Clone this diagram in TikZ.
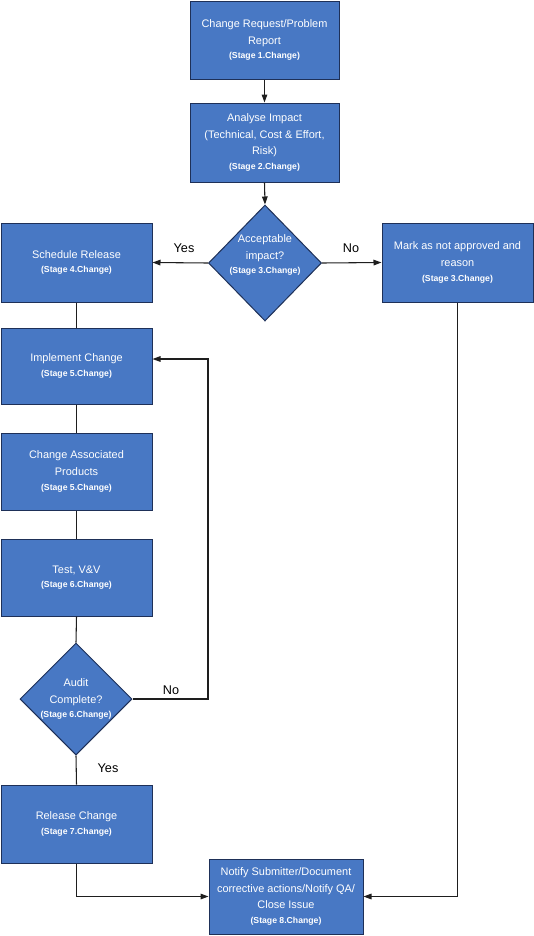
\documentclass[tikz,border=0pt]{standalone}
\usepackage{fontspec}
\setmainfont{Liberation Sans}
\usetikzlibrary{shapes.geometric,arrows.meta,calc}
\definecolor{boxblue}{RGB}{72,120,196}
\definecolor{boxedge}{RGB}{30,48,88}
\definecolor{conn}{RGB}{30,30,30}
\newcommand\mainf{\fontsize{8.2}{12.5}\selectfont}
\newcommand\stgf{\fontsize{6.5}{12.5}\selectfont\bfseries}
\begin{document}
\begin{tikzpicture}[x=0.75pt,y=-0.75pt,
  box/.style={draw=boxedge, fill=boxblue, line width=0.75pt, text=white, align=center,
    inner sep=0pt, font=\mainf, minimum width=113.25pt, minimum height=58.5pt},
  dia/.style={draw=boxedge, fill=boxblue, line width=0.75pt, diamond, inner sep=0pt},
  dtext/.style={text=white, align=center, font=\mainf, inner sep=0pt},
  lbl/.style={font=\fontsize{9.5}{11}\selectfont, inner sep=0pt},
  conn/.style={draw=conn, line width=0.8pt},
  arr/.style={conn, -{Triangle[length=6pt,width=4.2pt]}}]
\useasboundingbox (0,0) rectangle (534,936);

\node[box, minimum width=111.75pt] (n1) at (264.5,40)
  {Change Request/Problem\\Report\\[-1.5pt]\stgf (Stage 1.Change)};
\node[box, minimum width=111.75pt, minimum height=59.25pt] (n2) at (264.5,142.5)
  {Analyse Impact\\(Technical, Cost \& Effort,\\Risk)\\[-1.5pt]\stgf (Stage 2.Change)};
\node[dia, minimum width=84.75pt, minimum height=87pt] (d1) at (265,263) {};
\node[dtext] (t1) at (265,255) {Acceptable\\impact?\\[-1.5pt]\stgf (Stage 3.Change)};
\node[box, minimum height=59.25pt] (n4) at (76.5,262.5)
  {Schedule Release\\[-1.5pt]\stgf (Stage 4.Change)};
\node[box, minimum height=59.25pt] (n3) at (457.5,262.5)
  {Mark as not approved and\\reason\\[-1.5pt]\stgf (Stage 3.Change)};
\node[box, minimum height=57pt] (n5) at (76.5,366)
  {Implement Change\\[-1.5pt]\stgf (Stage 5.Change)};
\node[box, minimum height=57.75pt] (n6) at (76.5,471.5)
  {Change Associated\\Products\\[-1.5pt]\stgf (Stage 5.Change)};
\node[box, minimum height=57.75pt] (n7) at (76.5,577.5)
  {Test, V\&V\\[-1.5pt]\stgf (Stage 6.Change)};
\node[dia, minimum width=84pt, minimum height=84pt] (d2) at (76,699) {};
\node[dtext] (t2) at (76,699) {Audit\\Complete?\\[-1.5pt]\stgf (Stage 6.Change)};
\node[box] (n8) at (76.5,824)
  {Release Change\\[-1.5pt]\stgf (Stage 7.Change)};
\node[box, minimum width=115.5pt, minimum height=56.25pt] (n9) at (286,896.5)
  {Notify Submitter/Document\\corrective actions/Notify QA/\\Close Issue\\[-1.5pt]\stgf (Stage 8.Change)};

\draw[arr] (n1.south) -- (n2.north);
\draw[arr] (n2.south) -- (d1.north);
\draw[arr] (d1.west) -- (n4.east);
\draw[arr] (d1.east) -- (n3.west);
\node[lbl] (yes1) at (184,248) {Yes};
\node[lbl] (no1) at (351,248) {No};

\draw[conn] (n4.south) -- (n5.north);
\draw[conn] (n5.south) -- (n6.north);
\draw[conn] (n6.south) -- (n7.north);
\draw[conn] (n7.south) -- (d2.north);
\draw[conn] (d2.south) -- (n8.north);
\node[lbl] (yes2) at (108,768) {Yes};

\coordinate (a1) at (208,699);
\coordinate (a2) at (208,359);
\draw[arr] (d2.east) -- (a1) -- (a2) -- (a2 -| n5.east);
\node[lbl] (no2) at (171,690) {No};

\draw[arr] (n8.south) |- (n9.west);
\draw[arr] (n3.south) |- (n9.east);
\end{tikzpicture}
\end{document}
